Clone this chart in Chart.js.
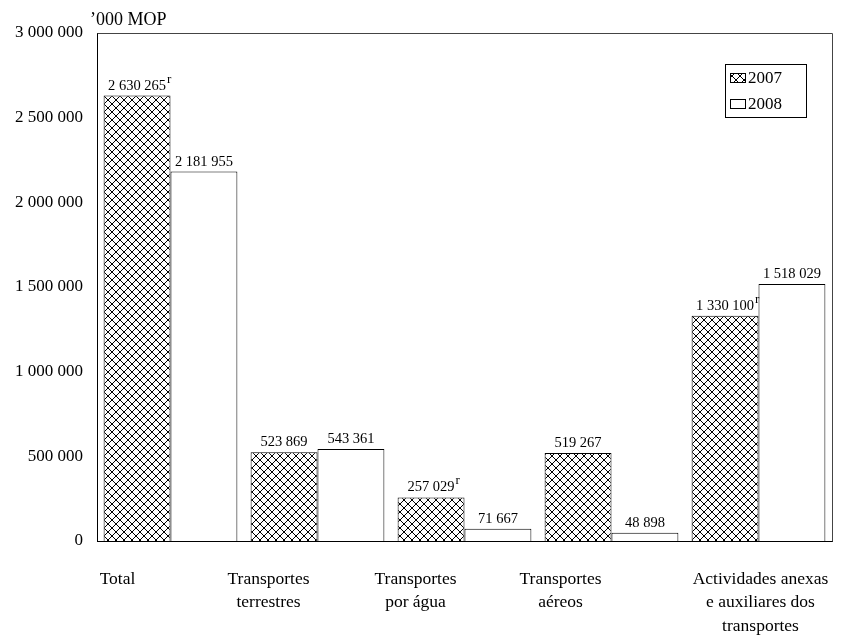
<!DOCTYPE html>
<html>
<head>
<meta charset="utf-8">
<script src="https://cdn.jsdelivr.net/npm/chart.js@4"></script>
<style>
  html, body { margin: 0; padding: 0; background: #fff; }
  #wrap { width: 864px; height: 639px; }
</style>
</head>
<body>
<div id="wrap"><canvas id="servicesChart" width="864" height="639"></canvas></div>
<script>
const categories = [
    ['Total'],
    ['Transportes', 'terrestres'],
    ['Transportes', 'por água'],
    ['Transportes', 'aéreos'],
    ['Actividades anexas', 'e auxiliares dos', 'transportes']
];
const values2007 = [2630265, 523869, 257029, 519267, 1330100];
const values2008 = [2181955, 543361, 71667, 48898, 1518029];
const revised2007 = [true, false, true, false, true]; // "r" marks
const revised2008 = [false, false, false, false, false];
const seriesNames = ['2007', '2008'];
const yTicks = [0, 500000, 1000000, 1500000, 2000000, 2500000, 3000000];
const unitLabel = '\u2019000 MOP';

const serif = '"Liberation Serif", "Times New Roman", serif';

// cross-hatch fill for 2007
function hatchPattern() {
    const c = document.createElement('canvas');
    c.width = 8; c.height = 8;
    const g = c.getContext('2d');
    g.fillStyle = '#fff';
    g.fillRect(0, 0, 8, 8);
    g.strokeStyle = '#000';
    g.lineWidth = 1;
    g.beginPath();
    g.moveTo(0, 0); g.lineTo(8, 8);
    g.moveTo(8, 0); g.lineTo(0, 8);
    g.stroke();
    return g.createPattern(c, 'repeat');
}
const hatch = hatchPattern();

const fmt = v => String(v).replace(/\B(?=(\d{3})+(?!\d))/g, ' ');

// value labels above bars, with superscript r
const valueLabels = {
    id: 'valueLabels',
    afterDatasetsDraw(chart) {
        const ctx = chart.ctx;
        const flags = [revised2007, revised2008];
        ctx.save();
        chart.data.datasets.forEach((ds, di) => {
            chart.getDatasetMeta(di).data.forEach((bar, i) => {
                const txt = fmt(ds.data[i]);
                ctx.font = '14.5px ' + serif;
                ctx.fillStyle = '#000';
                ctx.textBaseline = 'alphabetic';
                ctx.textAlign = 'center';
                const y = bar.y - 6;
                ctx.fillText(txt, bar.x, y);
                if (flags[di][i]) {
                    const w = ctx.measureText(txt).width;
                    ctx.font = '13px ' + serif;
                    ctx.textAlign = 'left';
                    ctx.fillText('r', bar.x + w / 2 + 1, y - 7);
                }
            });
        });
        ctx.restore();
    }
};

// unit label, plot frame, legend box, category labels
const decorations = {
    id: 'decorations',
    afterDraw(chart) {
        const ctx = chart.ctx;
        const a = chart.chartArea;
        ctx.save();
        ctx.strokeStyle = '#444';
        ctx.lineWidth = 1;
        ctx.beginPath();
        ctx.moveTo(a.left + 0.5, a.top + 0.5);
        ctx.lineTo(a.right + 0.5, a.top + 0.5);
        ctx.lineTo(a.right + 0.5, a.bottom + 0.5);
        ctx.stroke();

        ctx.fillStyle = '#000';
        ctx.font = '18px ' + serif;
        ctx.textAlign = 'left';
        ctx.textBaseline = 'alphabetic';
        ctx.fillText(unitLabel, a.left - 7, a.top - 8);

        // legend
        const bx = a.right - 107, by = a.top + 31, bw = 81, bh = 53;
        ctx.strokeStyle = '#000';
        ctx.strokeRect(bx + 0.5, by + 0.5, bw, bh);
        const fills = [hatch, '#fff'];
        seriesNames.forEach((name, i) => {
            const sy = by + 9 + i * 26;
            ctx.fillStyle = fills[i];
            ctx.fillRect(bx + 5, sy, 16, 10);
            ctx.strokeStyle = '#000';
            ctx.strokeRect(bx + 5.5, sy + 0.5, 15, 9);
            ctx.fillStyle = '#000';
            ctx.font = '17px ' + serif;
            ctx.textBaseline = 'middle';
            ctx.fillText(name, bx + 23, sy + 6);
        });

        // category labels (Excel-style placement)
        const shift = [-53, -49, -49, -51, 2];
        const xs = chart.scales.x;
        ctx.textAlign = 'center';
        ctx.textBaseline = 'middle';
        ctx.font = '17.5px ' + serif;
        categories.forEach((lines, i) => {
            const cx = xs.getPixelForValue(i) + shift[i];
            lines.forEach((ln, j) => ctx.fillText(ln, cx, a.bottom + 38 + j * 23.5));
        });
        ctx.restore();
    }
};

new Chart(document.getElementById('servicesChart').getContext('2d'), {
    type: 'bar',
    data: {
        labels: categories.map(c => c.join(' ')),
        datasets: [
            { label: seriesNames[0], data: values2007, backgroundColor: hatch, borderColor: '#000', borderWidth: 1 },
            { label: seriesNames[1], data: values2008, backgroundColor: '#fff', borderColor: '#000', borderWidth: 1 }
        ]
    },
    options: {
        responsive: false,
        animation: false,
        layout: { padding: { top: 33, right: 32, left: 0, bottom: 0 } },
        datasets: { bar: { categoryPercentage: 0.91, barPercentage: 1.0 } },
        plugins: { legend: { display: false }, tooltip: { enabled: false } },
        scales: {
            x: {
                grid: { display: false, drawTicks: false },
                border: { display: true, color: '#000' },
                ticks: { display: false },
                afterFit: s => { s.height = 98; }
            },
            y: {
                min: 0,
                max: 3000000,
                afterBuildTicks: s => { s.ticks = yTicks.map(v => ({ value: v })); },
                grid: { display: false, drawTicks: false },
                border: { display: true, color: '#000' },
                ticks: {
                    padding: 14,
                    color: '#000',
                    font: { family: serif, size: 17 },
                    callback: v => fmt(v)
                },
                afterFit: s => { s.width = 97; }
            }
        }
    },
    plugins: [valueLabels, decorations]
});
</script>
</body>
</html>
